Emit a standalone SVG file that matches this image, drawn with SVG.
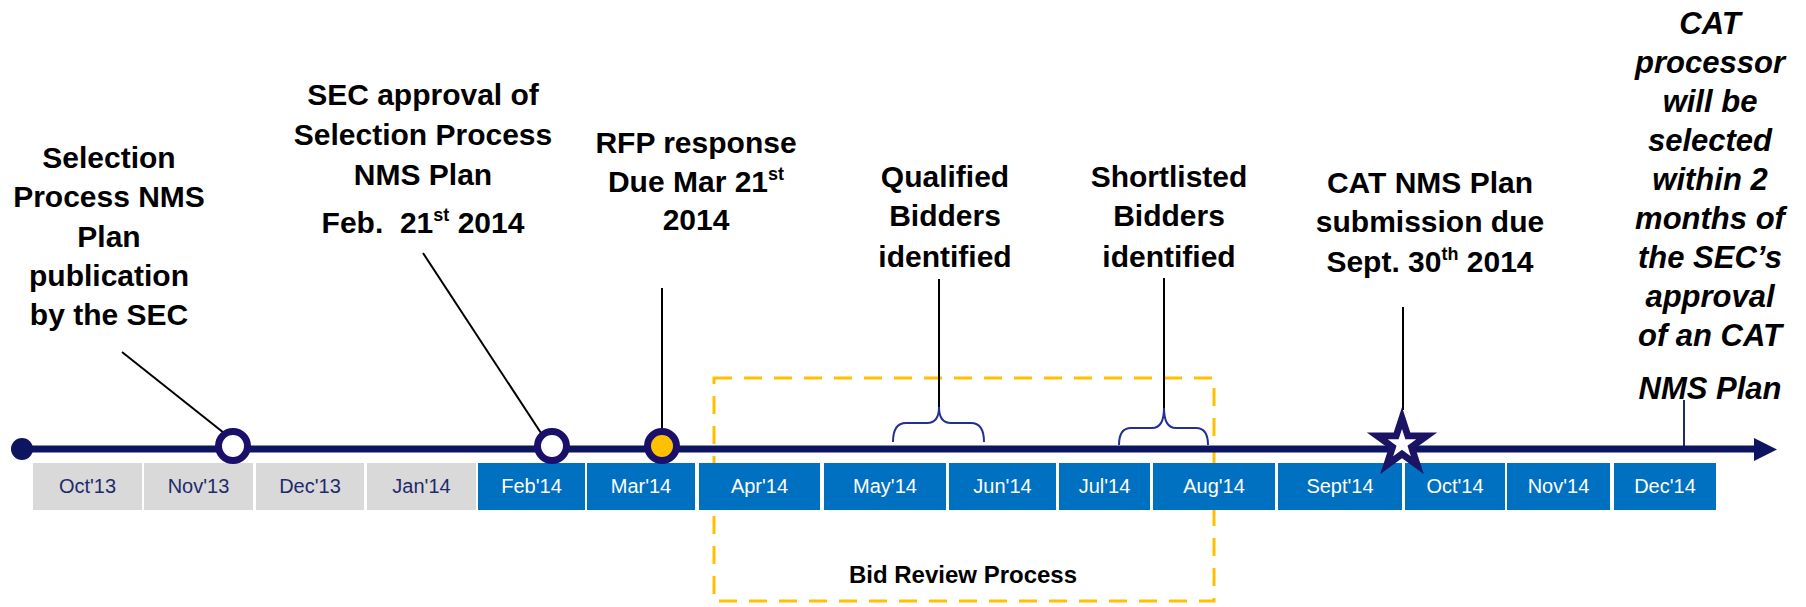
<svg xmlns="http://www.w3.org/2000/svg" width="1806" height="607" viewBox="0 0 1806 607">
<defs>
<style>
.lbl{font-family:"Liberation Sans",Arial,sans-serif;font-weight:bold;font-size:30px;fill:#000;text-anchor:middle}
.ital{font-family:"Liberation Sans",Arial,sans-serif;font-weight:bold;font-style:italic;font-size:31px;fill:#000;text-anchor:middle}
.mon{font-family:"Liberation Sans",Arial,sans-serif;font-size:20px;text-anchor:middle}
.gray rect{fill:#D9D9D9}
.gray text{fill:#1F2A6B}
.blue rect{fill:#0070C0}
.blue text{fill:#FFFFFF}
.conn{stroke:#000;stroke-width:2;fill:none}
.brace{stroke:#23308F;stroke-width:2;fill:none}
.ms{fill:#FFFFFF;stroke:#1A106B;stroke-width:7}
.sup{font-size:18px}
</style>
</defs>
<rect width="1806" height="607" fill="#FFFFFF"/>

<g id="bid-review">
<rect x="714" y="378" width="500" height="223" fill="none" stroke="#FFC000" stroke-width="3" stroke-dasharray="18 12"/>
<text class="lbl" x="963" y="583" style="font-size:24px">Bid Review Process</text>
</g>

<g id="months">
<g class="gray"><rect x="33" y="463" width="109" height="47"/><text class="mon" x="87.5" y="493">Oct'13</text></g>
<g class="gray"><rect x="144" y="463" width="109" height="47"/><text class="mon" x="198.5" y="493">Nov'13</text></g>
<g class="gray"><rect x="256" y="463" width="108" height="47"/><text class="mon" x="310" y="493">Dec'13</text></g>
<g class="gray"><rect x="367" y="463" width="109" height="47"/><text class="mon" x="421.5" y="493">Jan'14</text></g>
<g class="blue"><rect x="478" y="463" width="107" height="47"/><text class="mon" x="531.5" y="493">Feb'14</text></g>
<g class="blue"><rect x="587" y="463" width="108" height="47"/><text class="mon" x="641" y="493">Mar'14</text></g>
<g class="blue"><rect x="699" y="463" width="121" height="47"/><text class="mon" x="759.5" y="493">Apr'14</text></g>
<g class="blue"><rect x="824" y="463" width="122" height="47"/><text class="mon" x="885" y="493">May'14</text></g>
<g class="blue"><rect x="949" y="463" width="107" height="47"/><text class="mon" x="1002.5" y="493">Jun'14</text></g>
<g class="blue"><rect x="1059" y="463" width="91" height="47"/><text class="mon" x="1104.5" y="493">Jul'14</text></g>
<g class="blue"><rect x="1153" y="463" width="122" height="47"/><text class="mon" x="1214" y="493">Aug'14</text></g>
<g class="blue"><rect x="1278" y="463" width="124" height="47"/><text class="mon" x="1340" y="493">Sept'14</text></g>
<g class="blue"><rect x="1405" y="463" width="100" height="47"/><text class="mon" x="1455" y="493">Oct'14</text></g>
<g class="blue"><rect x="1507" y="463" width="103" height="47"/><text class="mon" x="1558.5" y="493">Nov'14</text></g>
<g class="blue"><rect x="1614" y="463" width="102" height="47"/><text class="mon" x="1665" y="493">Dec'14</text></g>
</g>

<g id="connectors">
<line class="conn" x1="122" y1="352" x2="224" y2="433"/>
<line class="conn" x1="423" y1="253" x2="541" y2="433"/>
<line class="conn" x1="662" y1="288" x2="662" y2="432"/>
<line class="conn" x1="939" y1="279" x2="939" y2="407"/>
<line class="conn" x1="1164" y1="278" x2="1164" y2="408"/>
<line class="conn" x1="1403" y1="307" x2="1403" y2="410"/>
<line x1="1684" y1="400" x2="1684" y2="449" stroke="#1F2A6B" stroke-width="2"/>
<path class="brace" d="M893,442 Q893,423 906,423 L927,423 Q939,423 939,407 Q939,423 951,423 L971,423 Q984,423 984,442"/>
<path class="brace" d="M1119,445 Q1119,428 1131,428 L1152,428 Q1164,428 1164,408 Q1164,428 1176,428 L1196,428 Q1208,428 1208,445"/>
</g>

<g id="timeline">
<line x1="22" y1="449" x2="1758" y2="449" stroke="#0D1560" stroke-width="7"/>
<polygon points="1754,438 1777,449.5 1754,461" fill="#0D1560"/>
<circle cx="22" cy="449" r="11" fill="#0D1560"/>
</g>

<g id="m-nov"><circle class="ms" cx="233" cy="446" r="14.5"/></g>
<g id="m-feb"><circle class="ms" cx="552" cy="446" r="14.5"/></g>
<g id="m-mar"><circle class="ms" cx="662" cy="446" r="14.5" style="fill:#FFC000"/></g>
<g id="m-sept">
<polygon fill="#1B1464" points="1402,407 1410.31,432.57 1437.19,432.57 1415.44,448.37 1423.75,473.93 1402,458.13 1380.25,473.93 1388.56,448.37 1366.81,432.57 1393.69,432.57"/>
<polygon fill="#FFFFFF" points="1402,429 1405.37,439.36 1416.27,439.36 1407.45,445.77 1410.82,456.14 1402,449.73 1393.18,456.14 1396.55,445.77 1387.73,439.36 1398.63,439.36"/>
</g>

<g id="label-publication">
<text class="lbl" x="109" y="168">Selection</text>
<text class="lbl" x="109" y="207">Process NMS</text>
<text class="lbl" x="109" y="247">Plan</text>
<text class="lbl" x="109" y="286">publication</text>
<text class="lbl" x="109" y="325">by the SEC</text>
</g>

<g id="label-approval">
<text class="lbl" x="423" y="105">SEC approval of</text>
<text class="lbl" x="423" y="145">Selection Process</text>
<text class="lbl" x="423" y="185">NMS Plan</text>
<text class="lbl" x="423" y="233">Feb.&#160; 21<tspan class="sup" dy="-12">st</tspan><tspan dy="12"> 2014</tspan></text>
</g>

<g id="label-rfp">
<text class="lbl" x="696" y="153">RFP response</text>
<text class="lbl" x="696" y="192">Due Mar 21<tspan class="sup" dy="-12">st</tspan></text>
<text class="lbl" x="696" y="230">2014</text>
</g>

<g id="label-qualified">
<text class="lbl" x="945" y="187">Qualified</text>
<text class="lbl" x="945" y="226">Bidders</text>
<text class="lbl" x="945" y="267">identified</text>
</g>

<g id="label-shortlisted">
<text class="lbl" x="1169" y="187">Shortlisted</text>
<text class="lbl" x="1169" y="226">Bidders</text>
<text class="lbl" x="1169" y="267">identified</text>
</g>

<g id="label-submission">
<text class="lbl" x="1430" y="193">CAT NMS Plan</text>
<text class="lbl" x="1430" y="232">submission due</text>
<text class="lbl" x="1430" y="272">Sept. 30<tspan class="sup" dy="-12">th</tspan><tspan dy="12"> 2014</tspan></text>
</g>

<g id="label-processor">
<text class="ital" x="1710" y="34">CAT</text>
<text class="ital" x="1710" y="73">processor</text>
<text class="ital" x="1710" y="112">will be</text>
<text class="ital" x="1710" y="151">selected</text>
<text class="ital" x="1710" y="190">within 2</text>
<text class="ital" x="1710" y="229">months of</text>
<text class="ital" x="1710" y="268">the SEC’s</text>
<text class="ital" x="1710" y="307">approval</text>
<text class="ital" x="1710" y="346">of an CAT</text>
<text class="ital" x="1710" y="399">NMS Plan</text>
</g>
</svg>
